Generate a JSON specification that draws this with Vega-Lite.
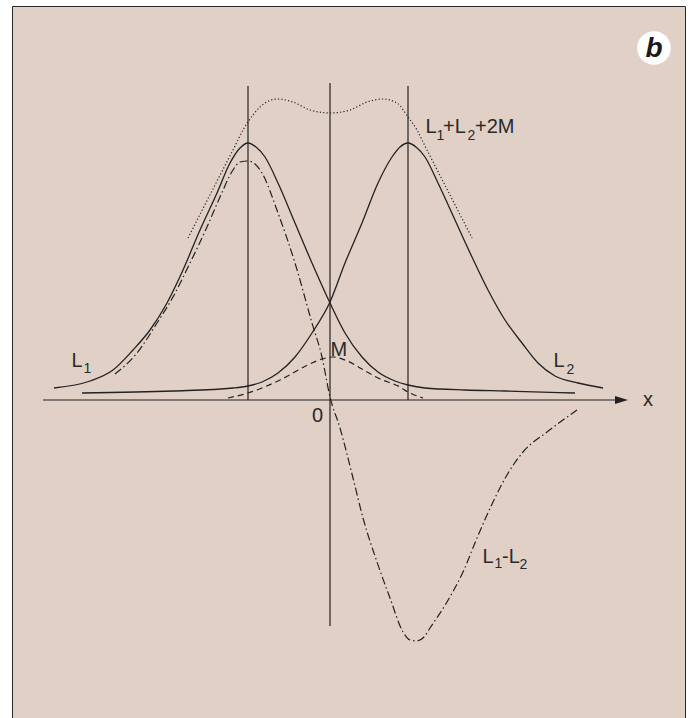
{
  "$schema": "https://vega.github.io/schema/vega-lite/v6.json",
  "width": 673,
  "height": 714,
  "autosize": {"type": "none"},
  "padding": {"left": 12, "top": 6, "right": 13, "bottom": 0},
  "background": "#ffffff",
  "config": {"view": {"fill": "#e0d0c6", "stroke": "#2a2a2a", "strokeWidth": 1}},
  "datasets": {
    "L1": [
      {"x": -276, "y": 12}, {"x": -240, "y": 19}, {"x": -217, "y": 30}, {"x": -197, "y": 50},
      {"x": -180, "y": 70}, {"x": -163, "y": 97}, {"x": -147, "y": 130}, {"x": -130, "y": 170},
      {"x": -113, "y": 207}, {"x": -100, "y": 237}, {"x": -90, "y": 252}, {"x": -82, "y": 257},
      {"x": -74, "y": 253}, {"x": -65, "y": 243}, {"x": -52, "y": 217}, {"x": -35, "y": 177},
      {"x": -18, "y": 137}, {"x": 0, "y": 97}, {"x": 15, "y": 67}, {"x": 32, "y": 43},
      {"x": 48, "y": 28}, {"x": 65, "y": 19}, {"x": 78, "y": 15}, {"x": 95, "y": 12},
      {"x": 135, "y": 10}, {"x": 175, "y": 9}, {"x": 245, "y": 7}
    ],
    "L2": [
      {"x": -248, "y": 7}, {"x": -157, "y": 9}, {"x": -97, "y": 12}, {"x": -82, "y": 14},
      {"x": -68, "y": 18}, {"x": -52, "y": 27}, {"x": -35, "y": 43}, {"x": -18, "y": 67},
      {"x": 0, "y": 98}, {"x": 15, "y": 137}, {"x": 32, "y": 177}, {"x": 48, "y": 217},
      {"x": 62, "y": 243}, {"x": 70, "y": 253}, {"x": 78, "y": 257}, {"x": 86, "y": 253},
      {"x": 95, "y": 243}, {"x": 108, "y": 217}, {"x": 125, "y": 180}, {"x": 142, "y": 143},
      {"x": 158, "y": 110}, {"x": 175, "y": 80}, {"x": 192, "y": 57}, {"x": 208, "y": 37},
      {"x": 225, "y": 24}, {"x": 248, "y": 17}, {"x": 273, "y": 12}
    ],
    "sum": [
      {"x": -142, "y": 162}, {"x": -115, "y": 215}, {"x": -95, "y": 254}, {"x": -87, "y": 270},
      {"x": -82, "y": 278}, {"x": -70, "y": 293}, {"x": -53, "y": 301}, {"x": -37, "y": 298},
      {"x": -20, "y": 290}, {"x": 0, "y": 287}, {"x": 20, "y": 290}, {"x": 37, "y": 298},
      {"x": 53, "y": 301}, {"x": 67, "y": 297}, {"x": 78, "y": 283}, {"x": 87, "y": 270},
      {"x": 93, "y": 258}, {"x": 120, "y": 205}, {"x": 142, "y": 162}
    ],
    "diff": [
      {"x": -215, "y": 26}, {"x": -193, "y": 47}, {"x": -173, "y": 77}, {"x": -157, "y": 103},
      {"x": -140, "y": 137}, {"x": -123, "y": 173}, {"x": -110, "y": 203}, {"x": -97, "y": 230},
      {"x": -90, "y": 238}, {"x": -82, "y": 239}, {"x": -75, "y": 236}, {"x": -68, "y": 227},
      {"x": -52, "y": 187}, {"x": -35, "y": 137}, {"x": -18, "y": 77}, {"x": -8, "y": 43},
      {"x": 0, "y": 3}, {"x": 10, "y": -28}, {"x": 23, "y": -78}, {"x": 33, "y": -118},
      {"x": 47, "y": -162}, {"x": 60, "y": -198}, {"x": 73, "y": -232}, {"x": 80, "y": -240},
      {"x": 87, "y": -241}, {"x": 94, "y": -237}, {"x": 100, "y": -228}, {"x": 117, "y": -202},
      {"x": 133, "y": -172}, {"x": 147, "y": -138}, {"x": 163, "y": -102}, {"x": 177, "y": -75},
      {"x": 193, "y": -52}, {"x": 217, "y": -32}, {"x": 247, "y": -10}
    ],
    "M": [
      {"x": -102, "y": 2}, {"x": -82, "y": 7}, {"x": -50, "y": 20}, {"x": -18, "y": 37},
      {"x": -8, "y": 41}, {"x": 3, "y": 43}, {"x": 15, "y": 40}, {"x": 37, "y": 28},
      {"x": 48, "y": 22}, {"x": 70, "y": 13}, {"x": 78, "y": 8}, {"x": 93, "y": 2}
    ],
    "rules": [
      {"x": -82, "x2": -82, "y": 314, "y2": 0},
      {"x": 0, "x2": 0, "y": 317, "y2": -226},
      {"x": 78, "x2": 78, "y": 314, "y2": 0},
      {"x": -287, "x2": 290, "y": 0, "y2": 0}
    ],
    "arrow": [{"x": 291.5, "y": 0}],
    "badge": [{"x": 324, "y": 352, "text": "b"}],
    "labels": [
      {"x": -258.5, "y": 33, "text": "L"},
      {"x": 223.5, "y": 33, "text": "L"},
      {"x": 0.5, "y": 44, "text": "M"},
      {"x": 95.5, "y": 267, "text": "L"},
      {"x": 113, "y": 267, "text": "+L"},
      {"x": 145, "y": 267, "text": "+2M"},
      {"x": 152.5, "y": -163, "text": "L"},
      {"x": 172, "y": -163, "text": "-L"},
      {"x": -18, "y": -22, "text": "0"},
      {"x": 313, "y": -6, "text": "x"}
    ],
    "subscripts": [
      {"x": -246.5, "y": 27, "text": "1"},
      {"x": 236.5, "y": 26, "text": "2"},
      {"x": 106.5, "y": 260, "text": "1"},
      {"x": 137.5, "y": 260, "text": "2"},
      {"x": 164.5, "y": -168, "text": "1"},
      {"x": 189.5, "y": -169, "text": "2"}
    ]
  },
  "encoding": {
    "x": {"field": "x", "type": "quantitative", "scale": {"domain": [-318, 355], "nice": false, "zero": false}, "axis": null},
    "y": {"field": "y", "type": "quantitative", "scale": {"domain": [-320, 394], "nice": false, "zero": false}, "axis": null}
  },
  "layer": [
    {
      "data": {"name": "rules"},
      "mark": {"type": "rule", "color": "#222222", "strokeWidth": 1.2},
      "encoding": {"x2": {"field": "x2"}, "y2": {"field": "y2"}}
    },
    {
      "data": {"name": "arrow"},
      "mark": {"type": "point", "shape": "M 1 0 L -1 -0.62 L -1 0.62 Z", "size": 169, "filled": true, "opacity": 1, "color": "#222222"}
    },
    {
      "data": {"name": "L1"},
      "mark": {"type": "line", "interpolate": "monotone", "color": "#222222", "strokeWidth": 1.3}
    },
    {
      "data": {"name": "L2"},
      "mark": {"type": "line", "interpolate": "monotone", "color": "#222222", "strokeWidth": 1.3}
    },
    {
      "data": {"name": "sum"},
      "mark": {"type": "line", "interpolate": "monotone", "color": "#222222", "strokeWidth": 1.2, "strokeDash": [1.2, 2.2]}
    },
    {
      "data": {"name": "diff"},
      "mark": {"type": "line", "interpolate": "monotone", "color": "#222222", "strokeWidth": 1.2, "strokeDash": [8, 3, 1.5, 3]}
    },
    {
      "data": {"name": "M"},
      "mark": {"type": "line", "interpolate": "monotone", "color": "#222222", "strokeWidth": 1.2, "strokeDash": [6, 4]}
    },
    {
      "data": {"name": "labels"},
      "mark": {"type": "text", "align": "left", "baseline": "alphabetic", "font": "Liberation Sans", "fontSize": 20, "color": "#2a2a2a"},
      "encoding": {"text": {"field": "text"}}
    },
    {
      "data": {"name": "subscripts"},
      "mark": {"type": "text", "align": "left", "baseline": "alphabetic", "font": "Liberation Sans", "fontSize": 14, "color": "#2a2a2a"},
      "encoding": {"text": {"field": "text"}}
    },
    {
      "data": {"name": "badge"},
      "mark": {"type": "point", "shape": "circle", "size": 1134, "filled": true, "opacity": 1, "color": "#ffffff", "strokeWidth": 0}
    },
    {
      "data": {"name": "badge"},
      "mark": {"type": "text", "align": "center", "baseline": "alphabetic", "dy": 9, "font": "Liberation Sans", "fontSize": 28, "fontStyle": "italic", "fontWeight": "bold", "color": "#1a1a1a"},
      "encoding": {"text": {"field": "text"}}
    }
  ]
}
